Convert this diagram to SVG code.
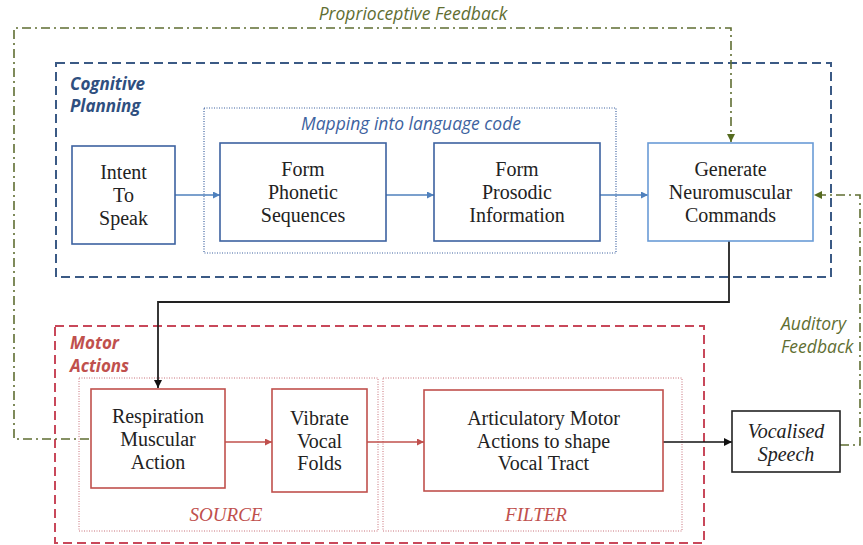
<svg xmlns="http://www.w3.org/2000/svg" width="863" height="545" viewBox="0 0 863 545">
<style>
.bg{fill:#fff}
.sans{font-family:"Open Sans","Liberation Sans",sans-serif}
.serif{font-family:"Liberation Serif",serif;font-size:20px;fill:#222;text-anchor:middle}
.bbox{fill:#fff;stroke:#3d62a0;stroke-width:1.6}
.rbox{fill:#fff;stroke:#c0504d;stroke-width:1.6}
.kbox{fill:#fff;stroke:#222;stroke-width:1.6}
.fb{fill:none;stroke:#5f6e32;stroke-width:1.6;stroke-dasharray:9 4 2 4}
.grp-blue{fill:none;stroke:#3b5a85;stroke-width:2;stroke-dasharray:9 5}
.grp-red{fill:none;stroke:#c8485a;stroke-width:2;stroke-dasharray:9 5}
.dot-blue{fill:none;stroke:#3d62a0;stroke-width:1.2;stroke-dasharray:1 1.5}
.dot-red{fill:none;stroke:#c8707a;stroke-width:1;stroke-dasharray:1 1.5}
.fbtext{font-style:italic;font-size:17.5px;fill:#5f6e32}
</style>
<defs>
<marker id="ab" viewBox="0 0 10 10" refX="10" refY="5" markerWidth="7" markerHeight="7" markerUnits="userSpaceOnUse" orient="auto"><path d="M0,0L10,5L0,10z" fill="#4f81bd"/></marker>
<marker id="ar" viewBox="0 0 10 10" refX="10" refY="5" markerWidth="7" markerHeight="7" markerUnits="userSpaceOnUse" orient="auto"><path d="M0,0L10,5L0,10z" fill="#c0504d"/></marker>
<marker id="ak" viewBox="0 0 10 10" refX="10" refY="5" markerWidth="8" markerHeight="8" markerUnits="userSpaceOnUse" orient="auto"><path d="M0,0L10,5L0,10z" fill="#111"/></marker>
<marker id="ag" viewBox="0 0 10 10" refX="10" refY="5" markerWidth="8" markerHeight="8" markerUnits="userSpaceOnUse" orient="auto"><path d="M0,0L10,5L0,10z" fill="#556b1f"/></marker>
</defs>
<rect class="bg" x="0" y="0" width="863" height="545"/>

<g id="cognitive-planning">
<rect class="grp-blue" x="56" y="63" width="775" height="214"/>
<text class="sans" x="70" y="90" font-size="17" font-weight="bold" font-style="italic" fill="#2f4f7f">Cognitive</text>
<text class="sans" x="70" y="112" font-size="17" font-weight="bold" font-style="italic" fill="#2f4f7f">Planning</text>
</g>
<g id="mapping">
<rect class="dot-blue" x="204" y="108" width="412" height="145"/>
<text class="sans" x="411" y="130" font-size="17.5" font-style="italic" fill="#3d62a0" text-anchor="middle">Mapping into language code</text>
</g>
<g id="motor-actions">
<rect class="grp-red" x="55" y="326" width="649" height="217"/>
<text class="sans" x="70" y="349" font-size="17" font-weight="bold" font-style="italic" fill="#c0504d">Motor</text>
<text class="sans" x="70" y="372" font-size="17" font-weight="bold" font-style="italic" fill="#c0504d">Actions</text>
</g>
<g id="source">
<rect class="dot-red" x="79" y="378" width="299" height="153"/>
<text x="226" y="521" font-family="Liberation Serif,serif" font-size="19" font-style="italic" fill="#c0504d" text-anchor="middle">SOURCE</text>
</g>
<g id="filter">
<rect class="dot-red" x="383" y="378" width="299" height="153"/>
<text x="536" y="521" font-family="Liberation Serif,serif" font-size="19" font-style="italic" fill="#c0504d" text-anchor="middle">FILTER</text>
</g>

<g id="connectors">
<line x1="175" y1="195" x2="220" y2="195" stroke="#4f81bd" stroke-width="1.6" marker-end="url(#ab)"/>
<line x1="386" y1="195" x2="434" y2="195" stroke="#4f81bd" stroke-width="1.6" marker-end="url(#ab)"/>
<line x1="600" y1="195" x2="648" y2="195" stroke="#4f81bd" stroke-width="1.6" marker-end="url(#ab)"/>
<polyline points="729,241 729,302 158,302 158,388" fill="none" stroke="#222" stroke-width="1.8" marker-end="url(#ak)"/>
<line x1="225" y1="442" x2="272" y2="442" stroke="#c0504d" stroke-width="1.6" marker-end="url(#ar)"/>
<line x1="367" y1="442" x2="424" y2="442" stroke="#c0504d" stroke-width="1.6" marker-end="url(#ar)"/>
<line x1="663" y1="442" x2="732" y2="442" stroke="#111" stroke-width="1.6" marker-end="url(#ak)"/>
<polyline class="fb" points="89,439 14,439 14,28 731,28 731,142" marker-end="url(#ag)"/>
<polyline class="fb" points="840,445 860,445 860,195 814,195" marker-end="url(#ag)"/>
<text class="sans fbtext" x="413" y="20" text-anchor="middle">Proprioceptive Feedback</text>
<text class="sans fbtext" x="781" y="330">Auditory</text>
<text class="sans fbtext" x="781" y="353">Feedback</text>
</g>

<g id="intent">
<rect class="bbox" x="72" y="146" width="103" height="98"/>
<text class="serif" x="123.5" y="179">Intent</text>
<text class="serif" x="123.5" y="202">To</text>
<text class="serif" x="123.5" y="225">Speak</text>
</g>
<g id="phonetic">
<rect class="bbox" x="220" y="143" width="166" height="98"/>
<text class="serif" x="303" y="176">Form</text>
<text class="serif" x="303" y="199">Phonetic</text>
<text class="serif" x="303" y="222">Sequences</text>
</g>
<g id="prosodic">
<rect class="bbox" x="434" y="143" width="166" height="98"/>
<text class="serif" x="517" y="176">Form</text>
<text class="serif" x="517" y="199">Prosodic</text>
<text class="serif" x="517" y="222">Information</text>
</g>
<g id="generate">
<rect x="648" y="143" width="165" height="98" fill="#fff" stroke="#6a9bd6" stroke-width="1.6"/>
<text class="serif" x="730.5" y="176">Generate</text>
<text class="serif" x="730.5" y="199">Neuromuscular</text>
<text class="serif" x="730.5" y="222">Commands</text>
</g>
<g id="respiration">
<rect class="rbox" x="91" y="389" width="134" height="99"/>
<text class="serif" x="158" y="423">Respiration</text>
<text class="serif" x="158" y="446">Muscular</text>
<text class="serif" x="158" y="469">Action</text>
</g>
<g id="vibrate">
<rect class="rbox" x="272" y="389" width="95" height="103"/>
<text class="serif" x="319.5" y="425">Vibrate</text>
<text class="serif" x="319.5" y="448">Vocal</text>
<text class="serif" x="319.5" y="470">Folds</text>
</g>
<g id="articulatory">
<rect class="rbox" x="424" y="390" width="239" height="101"/>
<text class="serif" x="543.5" y="425">Articulatory Motor</text>
<text class="serif" x="543.5" y="448">Actions to shape</text>
<text class="serif" x="543.5" y="470">Vocal Tract</text>
</g>
<g id="vocalised">
<rect class="kbox" x="732" y="411" width="108" height="61"/>
<text class="serif" x="786" y="438" font-style="italic">Vocalised</text>
<text class="serif" x="786" y="461" font-style="italic">Speech</text>
</g>
</svg>
